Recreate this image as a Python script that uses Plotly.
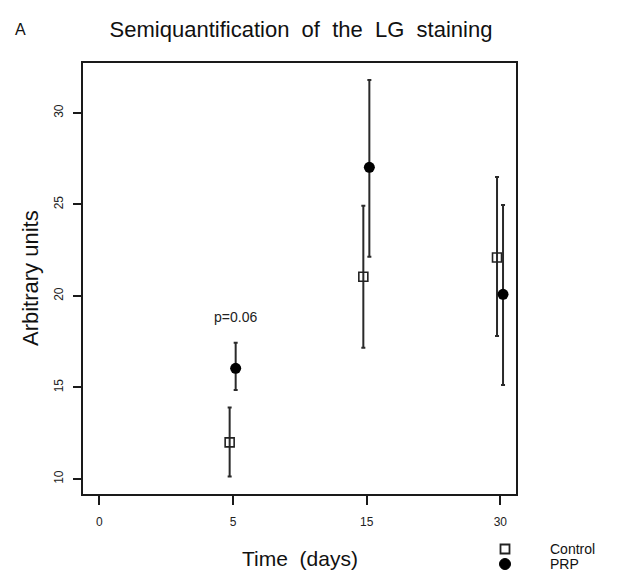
import plotly.graph_objects as go

# ---- data ----
time_labels = ["0", "5", "15", "30"]
time_pos = [0, 1, 2, 3]
obs_pos = [1, 2, 3]  # days 5, 15, 30

control_mean = [12.0, 21.05, 22.1]
control_upper = [13.9, 24.93, 26.5]
control_lower = [10.13, 17.17, 17.81]

prp_mean = [16.05, 27.03, 20.09]
prp_upper = [17.45, 31.8, 24.97]
prp_lower = [14.86, 22.15, 15.14]

y_ticks = [10, 15, 20, 25, 30]

control_dodge = -0.025
prp_dodge = 0.02

p_label = "p=0.06"
p_label_pos = 1
p_label_y = 18.86

FONT = "Liberation Sans, Arial, sans-serif"
W, H = 631, 572
L, R, T, B = 83, 115, 63, 78
PW, PH = W - L - R, H - T - B


def px(x):
    return (x - L) / PW


def py(y):
    return (H - B - y) / PH


def errs(mean, up, lo):
    return [u - m for u, m in zip(up, mean)], [m - l for m, l in zip(mean, lo)]


c_plus, c_minus = errs(control_mean, control_upper, control_lower)
p_plus, p_minus = errs(prp_mean, prp_upper, prp_lower)

fig = go.Figure()
fig.add_trace(go.Scatter(
    x=[p + control_dodge for p in obs_pos], y=control_mean,
    mode="markers", name="Control",
    marker=dict(symbol="square-open", size=9, color="#222", line=dict(width=1.6, color="#222")),
    error_y=dict(type="data", symmetric=False, array=c_plus, arrayminus=c_minus,
                 color="#2a2a2a", thickness=2, width=2),
))
fig.add_trace(go.Scatter(
    x=[p + prp_dodge for p in obs_pos], y=prp_mean,
    mode="markers", name="PRP",
    marker=dict(symbol="circle", size=11, color="#000"),
    error_y=dict(type="data", symmetric=False, array=p_plus, arrayminus=p_minus,
                 color="#2a2a2a", thickness=2, width=2),
))

# p-value label
fig.add_annotation(x=p_label_pos + prp_dodge, y=p_label_y, text=p_label, showarrow=False,
                   font=dict(family=FONT, size=14, color="#222"))
# panel letter
fig.add_annotation(xref="paper", yref="paper", x=px(20), y=py(29), xanchor="center",
                   yanchor="middle", text="A", showarrow=False,
                   font=dict(family=FONT, size=16, color="#111"))
# axis titles
fig.add_annotation(xref="paper", yref="paper", x=px(300), y=py(558), xanchor="center",
                   yanchor="middle", text="Time  (days)", showarrow=False,
                   font=dict(family=FONT, size=21, color="#111"))
fig.add_annotation(xref="paper", yref="paper", x=px(30), y=py(278), xanchor="center",
                   yanchor="middle", text="Arbitrary units", showarrow=False, textangle=-90,
                   font=dict(family=FONT, size=22, color="#111"))

# manual legend (as in the original figure, placed below-right of the panel)
legend_x = 505
legend_text_x = 548
legend_rows = [("Control", 549, 549), ("PRP", 564, 564)]
for name, my, ty in legend_rows:
    if name == "Control":
        fig.add_shape(type="rect", xref="paper", yref="paper",
                      xsizemode="pixel", ysizemode="pixel",
                      xanchor=px(legend_x), yanchor=py(my),
                      x0=-4.5, x1=4.5, y0=-4.5, y1=4.5,
                      line=dict(color="#222", width=1.8), fillcolor="rgba(0,0,0,0)")
    else:
        fig.add_shape(type="circle", xref="paper", yref="paper",
                      xsizemode="pixel", ysizemode="pixel",
                      xanchor=px(legend_x), yanchor=py(my),
                      x0=-5.5, x1=5.5, y0=-5.5, y1=5.5,
                      line=dict(color="#000", width=1), fillcolor="#000")
    fig.add_annotation(xref="paper", yref="paper", x=px(legend_text_x), y=py(ty),
                       xanchor="left", yanchor="middle", text=name, showarrow=False,
                       font=dict(family=FONT, size=14, color="#111"))

fig.update_layout(
    width=W, height=H,
    margin=dict(l=L, r=R, t=T, b=B, autoexpand=False),
    paper_bgcolor="white", plot_bgcolor="white",
    title=dict(text="Semiquantification  of  the  LG  staining", x=px(301), xref="paper",
               xanchor="center", y=1 - 29 / H, yref="container", yanchor="middle",
               font=dict(family=FONT, size=22, color="#111")),
    font=dict(family=FONT, color="#111"),
    showlegend=False,
)
fig.update_xaxes(
    range=[-0.122, 3.117], tickvals=time_pos, ticktext=time_labels,
    showgrid=False, zeroline=False, showline=True, mirror=True, automargin=False,
    linecolor="#1a1a1a", linewidth=2, ticks="outside", ticklen=9, tickwidth=1.6,
    tickcolor="#1a1a1a", tickfont=dict(family=FONT, size=12, color="#222"),
    ticklabelstandoff=7,
)
fig.update_yaxes(
    range=[9.18, 32.73], tickvals=y_ticks, tickangle=-90,
    showgrid=False, zeroline=False, showline=True, mirror=True, automargin=False,
    linecolor="#1a1a1a", linewidth=2, ticks="outside", ticklen=8, tickwidth=1.6,
    tickcolor="#1a1a1a", tickfont=dict(family=FONT, size=12, color="#222"),
    ticklabelstandoff=5,
)

fig.write_html("out.html")
